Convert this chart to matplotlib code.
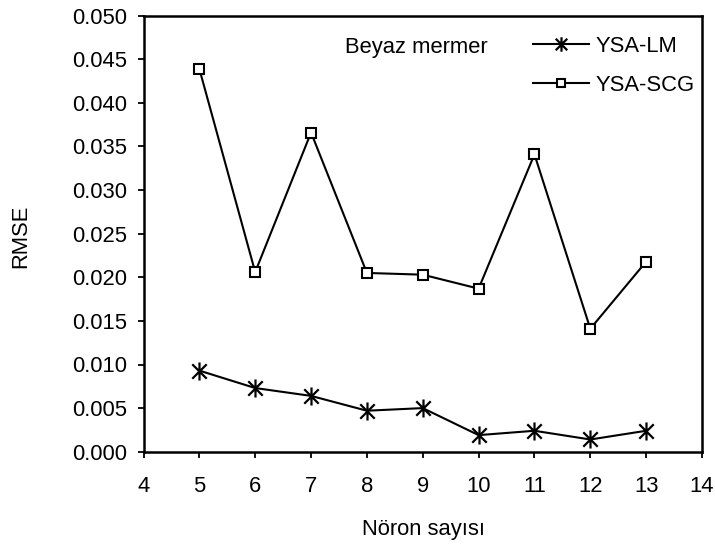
import matplotlib
matplotlib.use("Agg")
import matplotlib.pyplot as plt
from matplotlib.path import Path

plt.rcParams['font.family'] = ['Liberation Sans', 'DejaVu Sans']

neurons = [5, 6, 7, 8, 9, 10, 11, 12, 13]
rmse_lm = [0.0093, 0.0073, 0.0064, 0.0047, 0.0050, 0.0019, 0.0024, 0.0014, 0.0024]
rmse_scg = [0.0439, 0.0206, 0.0366, 0.0205, 0.0203, 0.0187, 0.0341, 0.0141, 0.0218]
yticks = [0.000, 0.005, 0.010, 0.015, 0.020, 0.025, 0.030, 0.035, 0.040, 0.045, 0.050]
xticks = [4, 5, 6, 7, 8, 9, 10, 11, 12, 13, 14]

W, H = 715, 546
FS = 15.8

# X-shaped star with a vertical stroke
star = Path([(-1, -1), (1, 1), (-1, 1), (1, -1), (0, -1.25), (0, 1.25)],
            [Path.MOVETO, Path.LINETO, Path.MOVETO, Path.LINETO,
             Path.MOVETO, Path.LINETO])

fig = plt.figure(figsize=(W / 100, H / 100), dpi=100)
ax = fig.add_axes([143.5 / W, 1 - 451.7 / H, (702 - 143.5) / W, (451.7 - 15.7) / H])

ax.plot(neurons, rmse_lm, color='black', lw=1.5, marker=star, ms=13,
        mew=1.6, label='YSA-LM')
ax.plot(neurons, rmse_scg, color='black', lw=1.5, marker='s', ms=7.5,
        mfc='white', mec='black', mew=1.5, label='YSA-SCG')

ax.set_xlim(4, 14)
ax.set_ylim(0, 0.05)
ax.set_xticks(xticks)
ax.set_yticks(yticks)
ax.set_yticklabels([f"{v:.3f}" for v in yticks])
ax.tick_params(direction='out', length=4.5, width=1.3, labelsize=FS)
ax.tick_params(axis='y', pad=7)
ax.tick_params(axis='x', pad=13)
for s in ax.spines.values():
    s.set_linewidth(1.8)

fig.text(423 / W, 1 - 529 / H, 'Nöron sayısı', fontsize=FS, ha='center', va='center')
fig.text(21 / W, 1 - 236 / H, 'RMSE', fontsize=FS, ha='center', va='center',
         rotation=90)

ax.text(345 / W, 1 - 47 / H, 'Beyaz mermer', transform=fig.transFigure,
        fontsize=FS, va='center', ha='left')
ax.legend(loc='upper left', bbox_to_anchor=(533 / W, 1 - 36 / H),
          bbox_transform=fig.transFigure, frameon=False, fontsize=FS,
          handlelength=2.55, handletextpad=0.3, labelspacing=0.82,
          borderaxespad=0, borderpad=0, markerscale=0.8)

fig.savefig('out.png', dpi=100)
